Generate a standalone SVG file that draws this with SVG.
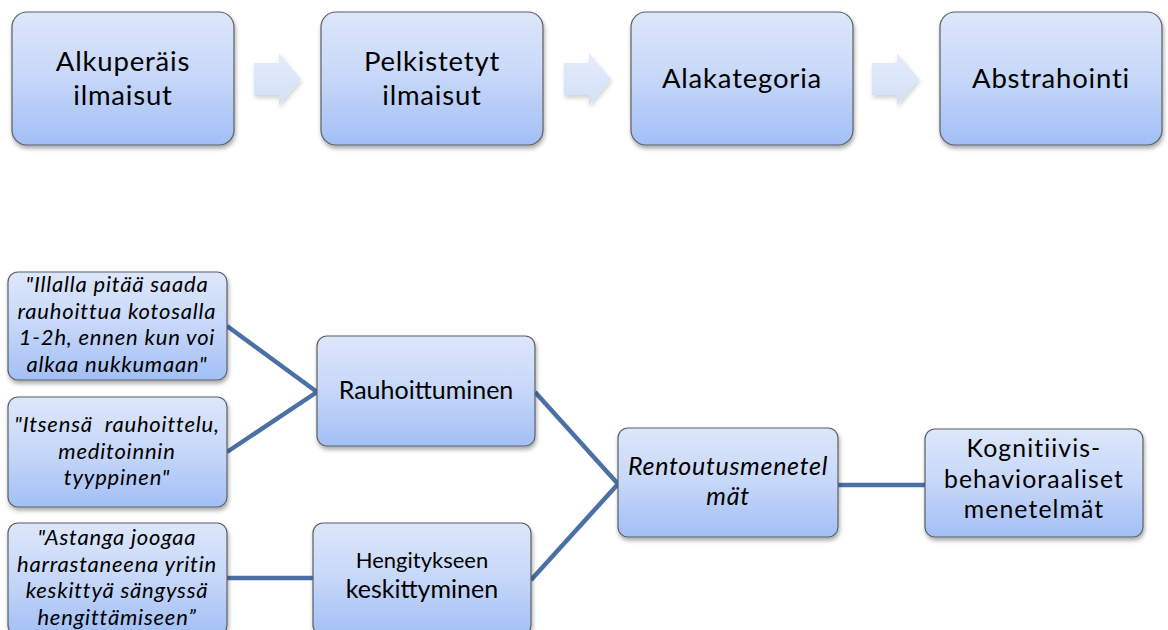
<svg xmlns="http://www.w3.org/2000/svg" width="1168" height="630" viewBox="0 0 1168 630">
  <style>
    .box { fill: url(#boxFill); stroke: #5b5f66; stroke-width: 1.2; filter: url(#shadow); }
    .arrow { fill: url(#arrowFill); filter: url(#softShadow); }
    .t { font-family: Lato, "Liberation Sans", sans-serif; fill: #000; text-anchor: middle; }
    .big { font-size: 27.5px; letter-spacing: 0.8px; }
    .mid { font-size: 25px; }
    .it { font-style: italic; font-size: 22px; letter-spacing: 0.8px; }
    .cat { font-size: 24.8px; letter-spacing: 1.1px; }
    .cat-it { font-style: italic; font-size: 25px; letter-spacing: 0.7px; }
    .link { stroke: #4a70a6; stroke-width: 4.5; fill: none; }
  </style>
  <defs>
    <linearGradient id="boxFill" x1="0" y1="0" x2="0" y2="1">
      <stop offset="0" stop-color="#dde7fa"/>
      <stop offset="0.5" stop-color="#c6d7f8"/>
      <stop offset="1" stop-color="#a2bff5"/>
    </linearGradient>
    <linearGradient id="arrowFill" x1="0" y1="0" x2="0" y2="1">
      <stop offset="0" stop-color="#e4ecfb"/>
      <stop offset="1" stop-color="#d2e0f7"/>
    </linearGradient>
    <filter id="shadow" x="-10%" y="-10%" width="125%" height="130%">
      <feDropShadow dx="1" dy="3" stdDeviation="2.2" flood-color="#000" flood-opacity="0.35"/>
    </filter>
    <filter id="softShadow" x="-20%" y="-20%" width="150%" height="150%">
      <feDropShadow dx="1" dy="3" stdDeviation="2" flood-color="#000" flood-opacity="0.18"/>
    </filter>
  </defs>

  <!-- process row -->
  <g id="step-alkuperais">
    <rect class="box" x="12" y="12" width="222" height="133" rx="15"/>
    <text class="t big" x="123" y="71">Alkuperäis</text>
    <text class="t big" x="123" y="104.5">ilmaisut</text>
  </g>
  <g id="step-pelkistetyt">
    <rect class="box" x="321" y="12" width="222" height="133" rx="15"/>
    <text class="t big" x="432" y="71">Pelkistetyt</text>
    <text class="t big" x="432" y="104.5">ilmaisut</text>
  </g>
  <g id="step-alakategoria">
    <rect class="box" x="631" y="12" width="222" height="133" rx="15"/>
    <text class="t big" x="742" y="88">Alakategoria</text>
  </g>
  <g id="step-abstrahointi">
    <rect class="box" x="940" y="12" width="222" height="133" rx="15"/>
    <text class="t big" x="1051" y="88">Abstrahointi</text>
  </g>

  <g id="step-arrows">
    <path class="arrow" d="M254,63 H279 V53 L301,79 L279,105 V95 H254 Z"/>
    <path class="arrow" d="M564,63 H589 V53 L611,79 L589,105 V95 H564 Z"/>
    <path class="arrow" d="M872,63 H897 V53 L919,79 L897,105 V95 H872 Z"/>
  </g>

  <!-- connectors -->
  <g id="connectors">
    <line class="link" x1="227" y1="326" x2="317" y2="392"/>
    <line class="link" x1="227" y1="452" x2="317" y2="392"/>
    <line class="link" x1="227" y1="578" x2="313" y2="578"/>
    <line class="link" x1="535" y1="392" x2="618" y2="484"/>
    <line class="link" x1="531" y1="580" x2="618" y2="484"/>
    <line class="link" x1="838" y1="485" x2="925" y2="485"/>
  </g>

  <!-- quotes -->
  <g id="quote-illalla">
    <rect class="box" x="8" y="272" width="219" height="108" rx="10"/>
    <text class="t it" x="117" y="292">"Illalla pitää saada</text>
    <text class="t it" x="117" y="318.7">rauhoittua kotosalla</text>
    <text class="t it" x="117" y="345.4">1-2h, ennen kun voi</text>
    <text class="t it" x="117" y="372.1">alkaa nukkumaan"</text>
  </g>
  <g id="quote-itsensa">
    <rect class="box" x="8" y="397" width="219" height="110" rx="10"/>
    <text class="t it" x="117" y="432" xml:space="preserve">"Itsensä  rauhoittelu,</text>
    <text class="t it" x="117" y="458.7">meditoinnin</text>
    <text class="t it" x="117" y="485.4">tyyppinen"</text>
  </g>
  <g id="quote-astanga">
    <rect class="box" x="8" y="523" width="219" height="112" rx="10"/>
    <text class="t it" x="117" y="545">"Astanga joogaa</text>
    <text class="t it" x="117" y="571.7">harrastaneena yritin</text>
    <text class="t it" x="117" y="598.4">keskittyä sängyssä</text>
    <text class="t it" x="117" y="625.1">hengittämiseen”</text>
  </g>

  <!-- subcategories -->
  <g id="sub-rauhoittuminen">
    <rect class="box" x="317" y="336" width="218" height="110" rx="10"/>
    <text class="t mid" x="426" y="399">Rauhoittuminen</text>
  </g>
  <g id="sub-hengitykseen">
    <rect class="box" x="313" y="523" width="218" height="112" rx="10"/>
    <text class="t" style="font-size:22px" x="422" y="568">Hengitykseen</text>
    <text class="t mid" x="422" y="598">keskittyminen</text>
  </g>

  <!-- categories -->
  <g id="cat-rentoutus">
    <rect class="box" x="618" y="428" width="220" height="109" rx="10"/>
    <text class="t cat-it" x="728" y="475">Rentoutusmenetel</text>
    <text class="t cat-it" x="728" y="505">mät</text>
  </g>
  <g id="cat-kognitiivis">
    <rect class="box" x="925" y="429" width="218" height="108" rx="10"/>
    <text class="t cat" x="1034" y="457">Kognitiivis-</text>
    <text class="t cat" x="1034" y="487.5">behavioraaliset</text>
    <text class="t cat" x="1034" y="518">menetelmät</text>
  </g>
</svg>
